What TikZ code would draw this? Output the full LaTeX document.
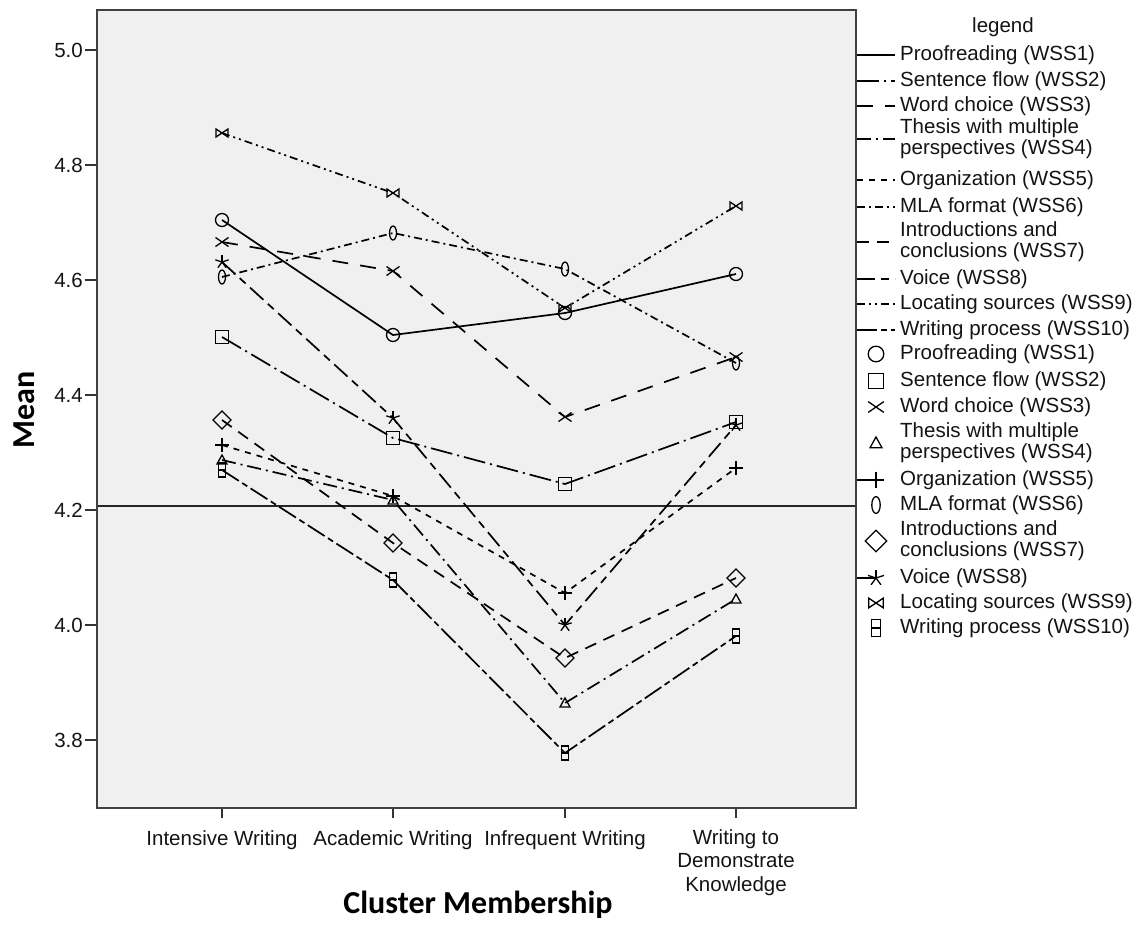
\documentclass[tikz,border=0pt]{standalone}
\usepackage{fontspec}
\setmainfont{Liberation Sans}
\newfontfamily\titlefont{Carlito}
\begin{document}
\begin{tikzpicture}[x=1pt,y=-1pt,
  txt/.style={font=\fontsize{20.5}{21}\selectfont, text=black!92, inner sep=0pt},
  ttl/.style={font=\titlefont\bfseries\fontsize{32}{34}\selectfont, text=black, inner sep=0pt},
  frm/.style={draw=black!75, line width=2pt},
  tck/.style={draw=black!80, line width=1.6pt},
  base/.style={line width=1.7pt, draw=black, line cap=butt},
  s1/.style={base},
  s2/.style={base, dash pattern=on 22pt off 5pt on 2pt off 5pt},
  s3/.style={base, dash pattern=on 16pt off 12pt},
  s4/.style={base, dash pattern=on 14pt off 5pt on 2pt off 5pt},
  s5/.style={base, dash pattern=on 6pt off 6pt},
  s6/.style={base, dash pattern=on 8pt off 4pt on 2pt off 4pt},
  s7/.style={base, dash pattern=on 12pt off 8pt},
  s8/.style={base, dash pattern=on 18pt off 6pt on 8pt off 6pt},
  s9/.style={base, dash pattern=on 8pt off 4pt on 2pt off 4pt on 2pt off 4pt},
  s10/.style={base, dash pattern=on 20pt off 4pt on 6pt off 4pt},
  mk/.style={draw=black, line width=1.3pt, solid, fill=none},
  pics/m1/.style={code={\draw[mk] (0,0) circle[radius=6.5pt];}},
  pics/m2/.style={code={\draw[mk] (-6.5,-6.5) rectangle (6.5,6.5);}},
  pics/m3/.style={code={\draw[mk] (-6.5,-4.5)--(6.5,4.5) (-6.5,4.5)--(6.5,-4.5);}},
  pics/m4/.style={code={\draw[mk] (0,-5)--(5,4)--(-5,4)--cycle;}},
  pics/m5/.style={code={\draw[mk] (-7,0)--(7,0) (0,-7)--(0,7);}},
  pics/m6/.style={code={\draw[mk] (0,0) ellipse[x radius=3.5pt, y radius=7pt];}},
  pics/m7/.style={code={\draw[mk] (0,-9)--(9,0)--(0,9)--(-9,0)--cycle;}},
  pics/m8/.style={code={\foreach \a in {90,162,234,306,18}{\draw[mk] (0,0)--(\a:7pt);}}},
  pics/m9/.style={code={\draw[mk] (-6,-4)--(-6,4)--(6,-4)--(6,4)--cycle;}},
  pics/m10/.style={code={\draw[mk] (-3.5,-7) rectangle (3.5,7); \draw[mk] (-3.5,0)--(3.5,0);}},
]
\useasboundingbox (0,0) rectangle (1140,937);
\fill[white] (0,0) rectangle (1140,937);

% plot area
\coordinate (pTL) at (97,10);
\coordinate (pBR) at (856,808);
\fill[black!6] (pTL) rectangle (pBR);

% y ticks
\foreach \v/\y in {5.0/50,4.8/165,4.6/280,4.4/395,4.2/510,4.0/625,3.8/740}{
  \coordinate (ya\y) at (85,\y);
  \coordinate (yb\y) at (97,\y);
  \draw[tck] (ya\y) -- (yb\y);
  \node[txt, anchor=east] (yl\y) at (83,\y) {\v};
}

% x ticks and labels
\foreach \x/\n in {222/a,393/b,565/c,736/d}{
  \coordinate (xa\n) at (\x,808);
  \coordinate (xb\n) at (\x,818);
  \draw[tck] (xa\n) -- (xb\n);
}
\node[txt, anchor=base] (xla) at (222,845) {Intensive Writing};
\node[txt, anchor=base] (xlb) at (393,845) {Academic Writing};
\node[txt, anchor=base] (xlc) at (565,845) {Infrequent Writing};
\node[txt, anchor=north, align=center, font=\fontsize{20.5}{23.5}\selectfont] (xld) at (736,829) {Writing to\\Demonstrate\\Knowledge};

% axis titles
\node[ttl] (xtitle) at (478,905) {Cluster Membership};
\node[ttl, rotate=90] (ytitle) at (24,410) {Mean};

% reference line
\coordinate (r1) at (97,506);
\coordinate (r2) at (856,506);
\draw[line width=1.6pt, draw=black!85] (r1) -- (r2);

% data points (x: 222,393,565,736)
\foreach \s/\ya/\yb/\yc/\yd in {
  1/220/335/313/274,
  2/337/438/484/422,
  3/242/271/417/357,
  4/460/500/703/599,
  5/445/496/593/468,
  6/277/233/269/363,
  7/420/543/658/578,
  8/262/418/625/425,
  9/133/193/308/206,
  10/470/580/753/636}{
  \coordinate (s\s a) at (222,\ya);
  \coordinate (s\s b) at (393,\yb);
  \coordinate (s\s c) at (565,\yc);
  \coordinate (s\s d) at (736,\yd);
  \draw[s\s] (s\s a) -- (s\s b) -- (s\s c) -- (s\s d);
  \foreach \p in {a,b,c,d}{ \pic at (s\s\p) {m\s}; }
}

% frame
\draw[frm] (pTL) rectangle (pBR);

% legend
\node[txt, anchor=base] (legt) at (1003,32) {legend};
\foreach \s/\y/\t in {
  1/55/{Proofreading (WSS1)},
  2/81/{Sentence flow (WSS2)},
  3/106/{Word choice (WSS3)},
  4/139/{Thesis with multiple\\perspectives (WSS4)},
  5/180/{Organization (WSS5)},
  6/207/{MLA format (WSS6)},
  7/242/{Introductions and\\conclusions (WSS7)},
  8/279/{Voice (WSS8)},
  9/304/{Locating sources (WSS9)},
  10/330/{Writing process (WSS10)}}{
  \coordinate (ls\s) at (857,\y);
  \coordinate (le\s) at (895,\y);
  \draw[s\s] (ls\s) -- (le\s);
  \node[txt, anchor=west, align=left] (lt\s) at (900,\y) {\t};
}
\foreach \s/\y/\t in {
  1/354/{Proofreading (WSS1)},
  2/381/{Sentence flow (WSS2)},
  3/407/{Word choice (WSS3)},
  4/443/{Thesis with multiple\\perspectives (WSS4)},
  5/480/{Organization (WSS5)},
  6/505/{MLA format (WSS6)},
  7/541/{Introductions and\\conclusions (WSS7)},
  8/578/{Voice (WSS8)},
  9/603/{Locating sources (WSS9)},
  10/628/{Writing process (WSS10)}}{
  \coordinate (lm\s) at (876,\y);
  \pic[scale=1.2] at (lm\s) {m\s};
  \node[txt, anchor=west, align=left] (lmt\s) at (900,\y) {\t};
}
\coordinate (lk5) at (857,480);
\coordinate (lk8) at (857,578);
\draw[mk] (lk5) -- (lm5);
\draw[mk] (lk8) -- (lm8);
\end{tikzpicture}
\end{document}
